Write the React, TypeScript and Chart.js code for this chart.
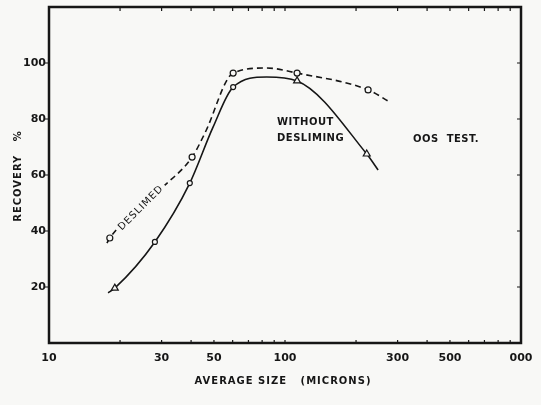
import React, { useEffect, useRef } from "react";
import { Chart, registerables } from "chart.js";

Chart.register(...registerables);

// Tick values and labels
const xTickValues = [10, 30, 50, 100, 300, 500, 1000];
const xTickLabels = ["10", "30", "50", "100", "300", "500", "000"];
const xMinorTicks = [20, 30, 40, 50, 60, 70, 80, 90, 100, 200, 300, 400, 500, 600, 700, 800, 900];
const yTickValues = [20, 40, 60, 80, 100];

// Deslimed series (dashed)
const deslimedX = [17.6, 18.1, 30.1, 40.4, 45.8, 60.3, 83.6, 112.5, 225, 279];
const deslimedY = [35.7, 37.5, 55.4, 66.4, 75, 96.4, 98.2, 96.4, 90.4, 86];
const deslimedMarked = [false, true, false, true, false, true, false, true, true, false];

// Without desliming series (solid)
const withoutX = [17.8, 19.0, 28.1, 39.5, 49.5, 60.3, 83.6, 112.5, 222, 248];
const withoutY = [17.9, 19.6, 36.1, 57.1, 77, 91.4, 95, 93.6, 67.5, 61.8];
const withoutMarked = [false, "triangle", "circle", "circle", false, "circle", false, "triangle", "triangle", false];

const INK = "#161616";
const BG = "#f8f8f6";
const FONT = "'DejaVu Sans', sans-serif";

export default function App() {
  const ref = useRef<HTMLCanvasElement>(null);

  useEffect(() => {
    if (!ref.current) return;

    const decor = {
      id: "decor",
      beforeDraw(chart: any) {
        const { ctx, width, height } = chart;
        ctx.save();
        ctx.fillStyle = BG;
        ctx.fillRect(0, 0, width, height);
        ctx.restore();
      },
      afterDraw(chart: any) {
        const { ctx, chartArea: a, scales } = chart;
        const xs = scales.x;
        const ys = scales.y;
        ctx.save();
        ctx.strokeStyle = INK;
        ctx.fillStyle = INK;
        // frame
        ctx.lineWidth = 2.5;
        ctx.strokeRect(a.left, a.top, a.right - a.left, a.bottom - a.top);
        // minor ticks top/bottom
        ctx.lineWidth = 1.2;
        xMinorTicks.forEach((v) => {
          const px = xs.getPixelForValue(v);
          ctx.beginPath();
          ctx.moveTo(px, a.top);
          ctx.lineTo(px, a.top + 4);
          ctx.moveTo(px, a.bottom);
          ctx.lineTo(px, a.bottom - 3);
          ctx.stroke();
        });
        // y ticks left (outside) and right (inside), with labels
        ctx.font = `bold 11px ${FONT}`;
        ctx.textAlign = "right";
        ctx.textBaseline = "middle";
        yTickValues.forEach((v) => {
          const py = ys.getPixelForValue(v);
          ctx.beginPath();
          ctx.moveTo(a.left - 4, py);
          ctx.lineTo(a.left, py);
          ctx.moveTo(a.right, py);
          ctx.lineTo(a.right - 4, py);
          ctx.stroke();
          ctx.fillText(String(v), a.left - 3, py);
        });
        // axis titles
        ctx.font = `bold 10px ${FONT}`;
        (ctx as any).letterSpacing = "1px";
        ctx.textAlign = "center";
        ctx.textBaseline = "middle";
        ctx.fillText("AVERAGE SIZE   (MICRONS)", 283, 381);
        ctx.save();
        ctx.translate(18, 176);
        ctx.rotate(-Math.PI / 2);
        ctx.fillText("RECOVERY   %", 0, 0);
        ctx.restore();
        // annotations
        ctx.font = `bold 10px ${FONT}`;
        (ctx as any).letterSpacing = "0.5px";
        ctx.textAlign = "left";
        ctx.fillText("WITHOUT", 277, 122);
        ctx.fillText("DESLIMING", 277, 138);
        ctx.fillText("OOS  TEST.", 413, 139);
        // inline label on the dashed curve
        (ctx as any).letterSpacing = "1px";
        ctx.save();
        ctx.translate(141, 208);
        ctx.rotate(-0.785);
        ctx.font = `10px ${FONT}`;
        ctx.textAlign = "center";
        const w = ctx.measureText("DESLIMED").width;
        ctx.fillStyle = BG;
        ctx.fillRect(-w / 2 - 3, -6, w + 6, 12);
        ctx.fillStyle = INK;
        ctx.fillText("DESLIMED", 0, 0);
        ctx.restore();
        ctx.restore();
      },
    };

    const mk = (xsArr: number[], ysArr: number[]) => xsArr.map((x, i) => ({ x, y: ysArr[i] }));

    const chart = new Chart(ref.current, {
      type: "line",
      data: {
        datasets: [
          {
            label: "Deslimed",
            data: mk(deslimedX, deslimedY),
            borderColor: INK,
            borderWidth: 1.6,
            borderDash: [6, 4],
            cubicInterpolationMode: "monotone",
            pointRadius: deslimedMarked.map((m) => (m ? 3 : 0)),
            pointStyle: "circle",
            pointBackgroundColor: BG,
            pointBorderColor: INK,
            pointBorderWidth: 1.2,
            fill: false,
          },
          {
            label: "Without desliming",
            data: mk(withoutX, withoutY),
            borderColor: INK,
            borderWidth: 1.6,
            cubicInterpolationMode: "monotone",
            pointRadius: withoutMarked.map((m) => (m ? (m === "triangle" ? 4 : 2.5) : 0)),
            pointStyle: withoutMarked.map((m) => (m ? m : "circle")) as any,
            pointBackgroundColor: BG,
            pointBorderColor: INK,
            pointBorderWidth: 1.2,
            fill: false,
          },
        ],
      },
      options: {
        animation: false,
        responsive: false,
        maintainAspectRatio: false,
        layout: { padding: { left: 0, right: 20, top: 7, bottom: 0 } },
        plugins: { legend: { display: false }, tooltip: { enabled: false } },
        scales: {
          x: {
            type: "logarithmic",
            min: 10,
            max: 1000,
            afterBuildTicks: (s: any) => {
              s.ticks = xTickValues.map((v) => ({ value: v }));
            },
            afterFit: (s: any) => {
              s.height = 62;
            },
            ticks: {
              autoSkip: false,
              maxRotation: 0,
              color: INK,
              font: { family: FONT, size: 11, weight: "bold" },
              padding: 1,
              callback: (v: any) => {
                const i = xTickValues.indexOf(Number(v));
                return i >= 0 ? xTickLabels[i] : "";
              },
            },
            grid: { display: false },
            border: { display: false },
          },
          y: {
            type: "linear",
            min: 0,
            max: 120,
            afterBuildTicks: (s: any) => {
              s.ticks = yTickValues.map((v) => ({ value: v }));
            },
            afterFit: (s: any) => {
              s.width = 49;
            },
            ticks: { display: false },
            grid: { display: false },
            border: { display: false },
          },
        },
      },
      plugins: [decor],
    } as any);

    return () => chart.destroy();
  }, []);

  return (
    <div style={{ position: "fixed", left: 0, top: 0, width: 541, height: 405, background: BG }}>
      <canvas ref={ref} width={541} height={405} style={{ display: "block" }} />
    </div>
  );
}
